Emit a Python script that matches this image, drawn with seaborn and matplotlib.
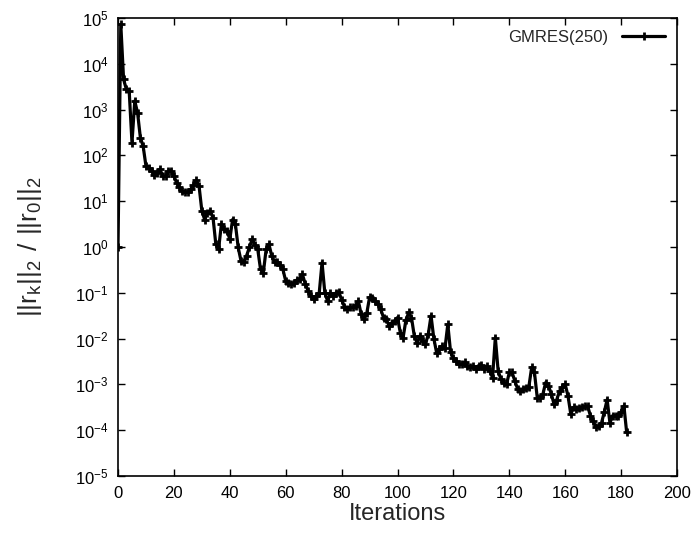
import numpy as np
import pandas as pd
import matplotlib
matplotlib.use("Agg")
import matplotlib.pyplot as plt
import seaborn as sns

# log10 of relative residual norm ||r_k||_2/||r_0||_2, iterations 0..182
log_residual = [
    0.00, 4.86, 3.66, 3.44, 3.41, 2.28, 3.19, 2.93, 2.39, 2.20,
    1.77, 1.73, 1.66, 1.58, 1.62, 1.70, 1.55, 1.54, 1.66, 1.67,
    1.55, 1.40, 1.30, 1.22, 1.20, 1.20, 1.26, 1.35, 1.46, 1.33,
    0.79, 0.60, 0.75, 0.79, 0.64, 0.06, -0.04, 0.50, 0.39, 0.36,
    0.17, 0.60, 0.50, -0.01, -0.30, -0.33, -0.19, -0.01, 0.17, 0.05,
    -0.05, -0.49, -0.56, -0.05, 0.06, -0.19, -0.33, -0.33, -0.40, -0.49,
    -0.74, -0.78, -0.81, -0.78, -0.72, -0.70, -0.60, -0.81, -0.95, -1.07,
    -1.13, -1.07, -1.00, -0.34, -1.00, -1.18, -1.00, -1.07, -1.00, -0.98,
    -1.15, -1.30, -1.36, -1.32, -1.32, -1.28, -1.18, -1.47, -1.58, -1.45,
    -1.10, -1.12, -1.18, -1.25, -1.36, -1.54, -1.58, -1.72, -1.65, -1.61,
    -1.54, -1.87, -1.98, -1.60, -1.43, -1.54, -1.94, -2.09, -1.94, -2.05,
    -2.12, -1.91, -1.50, -2.00, -2.31, -2.23, -2.16, -2.20, -1.69, -2.30,
    -2.42, -2.49, -2.56, -2.56, -2.52, -2.60, -2.62, -2.60, -2.66, -2.60,
    -2.58, -2.66, -2.60, -2.70, -2.85, -1.98, -2.70, -2.89, -2.96, -3.00,
    -2.74, -2.74, -2.93, -3.10, -3.14, -3.10, -3.07, -3.05, -2.63, -2.74,
    -3.29, -3.29, -3.22, -2.96, -3.03, -3.20, -3.43, -3.33, -3.14, -3.05,
    -3.00, -3.25, -3.65, -3.50, -3.54, -3.52, -3.50, -3.48, -3.47, -3.68,
    -3.80, -3.94, -3.91, -3.84, -3.60, -3.33, -3.84, -3.68, -3.68, -3.68,
    -3.60, -3.47, -4.05,
]
iterations = list(range(len(log_residual)))
series_label = "GMRES(250)"
x_ticks = [0, 20, 40, 60, 80, 100, 120, 140, 160, 180, 200]

df = pd.DataFrame({
    "Iterations": iterations,
    "residual": [10.0 ** v for v in log_residual],
    "series": series_label,
})

sns.set_style("ticks")
plt.rcParams["font.family"] = ["Liberation Sans Narrow", "Liberation Sans", "DejaVu Sans"]
plt.rcParams["mathtext.fontset"] = "custom"
plt.rcParams["mathtext.rm"] = "Liberation Sans Narrow"
plt.rcParams["mathtext.it"] = "Liberation Sans Narrow"
plt.rcParams["mathtext.default"] = "regular"

fig = plt.figure(figsize=(6.97, 5.34), dpi=100)
ax = fig.add_axes([118 / 697, 1 - 476 / 534, (677 - 118) / 697, (476 - 18) / 534])

sns.lineplot(data=df, x="Iterations", y="residual", hue="series",
             palette=["black"], ax=ax, linewidth=2.3,
             marker="+", markersize=5.5, markeredgewidth=2.0,
             markeredgecolor="black")

ax.set_yscale("log")
ax.set_xlim(0, 200)
ax.set_ylim(1e-5, 1e5)
ax.set_xticks(x_ticks)
ax.set_yticks([10.0 ** k for k in range(-5, 6)])
ax.minorticks_off()
ax.tick_params(direction="in", length=5, width=1, top=True, right=True,
               labelsize=12, pad=7, colors="black")
for s in ax.spines.values():
    s.set_linewidth(1.2)
    s.set_color("black")

ax.set_xlabel("Iterations", fontsize=17, labelpad=2)
ax.set_ylabel(r"$||r_k||_2\ /\ ||r_0||_2$", fontsize=19, labelpad=22)

leg = ax.legend(loc="upper right", frameon=False, markerfirst=False,
                fontsize=12, handlelength=2.6, borderaxespad=0.3)

fig.savefig("out.png", dpi=100)
